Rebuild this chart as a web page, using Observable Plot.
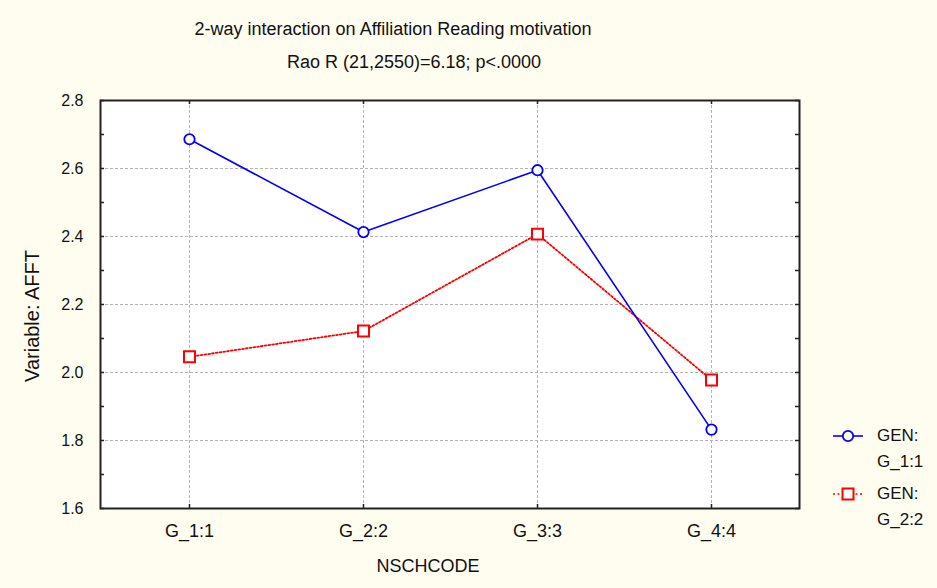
<!DOCTYPE html>
<html>
<head>
<meta charset="utf-8">
<script src="https://cdn.jsdelivr.net/npm/d3@7"></script>
<script src="https://cdn.jsdelivr.net/npm/@observablehq/plot@0.6"></script>
<style>
  body { margin: 0; background: #fffdf0; font-family: "Liberation Sans", Arial, sans-serif; }
  #chart { position: relative; width: 937px; height: 588px; background: #fffdf0; overflow: hidden; }
  #chart svg { position: absolute; left: 0; top: 0; }
  .t { position: absolute; white-space: nowrap; color: #111; transform: translate(-50%, -50%); line-height: 1; }
  .leg { position: absolute; white-space: nowrap; color: #111; font-size: 17px; line-height: 1; }
  .sw { position: absolute; }
</style>
</head>
<body>
<div id="chart"></div>
<script>
// Group means of AFFT by school code, one series per gender
const categories = ["G_1:1", "G_2:2", "G_3:3", "G_4:4"];
const gen1 = [2.686, 2.413, 2.595, 1.832];
const gen2 = [2.046, 2.122, 2.407, 1.978];
const seriesLabels = ["G_1:1", "G_2:2"];
const yTicks = [1.6, 1.8, 2.0, 2.2, 2.4, 2.6, 2.8];
const yMinor = [1.7, 1.9, 2.1, 2.3, 2.5, 2.7];

const title = "2-way interaction on Affiliation Reading motivation";
const subtitle = "Rao R (21,2550)=6.18; p<.0000";
const xLabel = "NSCHCODE";
const yLabel = "Variable: AFFT";

const W = 937, H = 588;
const margin = {left: 100, top: 100, right: 138, bottom: 80};
const innerW = W - margin.left - margin.right;
const innerH = H - margin.top - margin.bottom;

const rows1 = categories.map((c, i) => ({cat: c, v: gen1[i]}));
const rows2 = categories.map((c, i) => ({cat: c, v: gen2[i]}));
const gridValues = yTicks.slice(1, -1);
const frameInk = "#222";
const gridInk = "#b4b4b4";

const chart = Plot.plot({
  width: W,
  height: H,
  marginLeft: margin.left,
  marginRight: margin.right,
  marginTop: margin.top,
  marginBottom: margin.bottom,
  style: {background: "transparent", fontFamily: "'Liberation Sans', Arial, sans-serif", color: "#111"},
  x: {type: "point", domain: categories, padding: 0.5},
  y: {domain: [1.6, 2.8]},
  marks: [
    Plot.frame({fill: "white", stroke: null}),
    Plot.gridY(gridValues, {stroke: gridInk, strokeOpacity: 1, strokeDasharray: "3,2"}),
    Plot.gridX(categories, {stroke: gridInk, strokeOpacity: 1, strokeDasharray: "3,2"}),
    // short inward ticks along the frame
    Plot.tickY(yTicks.concat(yMinor), {y: d => d, insetRight: innerW - 4, stroke: frameInk, strokeWidth: 1.5}),
    Plot.tickY(yTicks.concat(yMinor), {y: d => d, insetLeft: innerW - 4, stroke: frameInk, strokeWidth: 1.5}),
    Plot.tickX(categories, {x: d => d, insetBottom: innerH - 4, stroke: frameInk, strokeWidth: 1.5}),
    Plot.tickX(categories, {x: d => d, insetTop: innerH - 4, stroke: frameInk, strokeWidth: 1.5}),
    Plot.frame({stroke: frameInk, strokeWidth: 2}),
    Plot.line(rows2, {x: "cat", y: "v", stroke: "#ff0000", strokeWidth: 1.8, strokeDasharray: "1.8,2"}),
    Plot.dot(rows2, {x: "cat", y: "v", symbol: "square", r: 6.2, stroke: "#ff0000", fill: "white", strokeWidth: 2}),
    Plot.line(rows1, {x: "cat", y: "v", stroke: "#0000ff", strokeWidth: 1.6}),
    Plot.dot(rows1, {x: "cat", y: "v", symbol: "circle", r: 5.2, stroke: "#0000ff", fill: "white", strokeWidth: 1.8}),
    Plot.axisY({ticks: yTicks, tickSize: 0, tickPadding: 17, tickFormat: d3.format(".1f"), fontSize: 16, label: null}),
    Plot.axisX({tickSize: 0, tickPadding: 16, fontSize: 18, label: null})
  ]
});

const root = document.getElementById("chart");
root.appendChild(chart);

function addText(text, x, y, size, rotate) {
  const el = document.createElement("div");
  el.className = "t";
  el.textContent = text;
  el.style.left = x + "px";
  el.style.top = y + "px";
  el.style.fontSize = size + "px";
  if (rotate) el.style.transform = "translate(-50%, -50%) rotate(-90deg)";
  root.appendChild(el);
}
addText(title, 393, 29, 18);
addText(subtitle, 414, 62, 18);
addText(xLabel, 428, 566, 18);
addText(yLabel, 32, 316, 20, true);

// legend
const legendItems = [
  {label: seriesLabels[0], color: "#0000ff", dash: null, symbol: "circle", y: 436},
  {label: seriesLabels[1], color: "#ff0000", dash: "2,2.5", symbol: "square", y: 494}
];
for (const item of legendItems) {
  const sw = d3.create("svg").attr("class", "sw").attr("width", 36).attr("height", 16)
    .style("left", "830px").style("top", (item.y - 8) + "px");
  sw.append("line").attr("x1", 3).attr("x2", 33).attr("y1", 8).attr("y2", 8)
    .attr("stroke", item.color).attr("stroke-width", 1.6).attr("stroke-dasharray", item.dash);
  if (item.symbol === "circle") {
    sw.append("circle").attr("cx", 18).attr("cy", 8).attr("r", 5.2).attr("fill", "white")
      .attr("stroke", item.color).attr("stroke-width", 1.8);
  } else {
    sw.append("rect").attr("x", 12.5).attr("y", 2.5).attr("width", 11).attr("height", 11).attr("fill", "white")
      .attr("stroke", item.color).attr("stroke-width", 2);
  }
  root.appendChild(sw.node());
  const a = document.createElement("div");
  a.className = "leg";
  a.textContent = "GEN:";
  a.style.left = "877px";
  a.style.top = (item.y - 9) + "px";
  root.appendChild(a);
  const b = document.createElement("div");
  b.className = "leg";
  b.textContent = item.label;
  b.style.left = "877px";
  b.style.top = (item.y + 17) + "px";
  root.appendChild(b);
}
</script>
</body>
</html>
